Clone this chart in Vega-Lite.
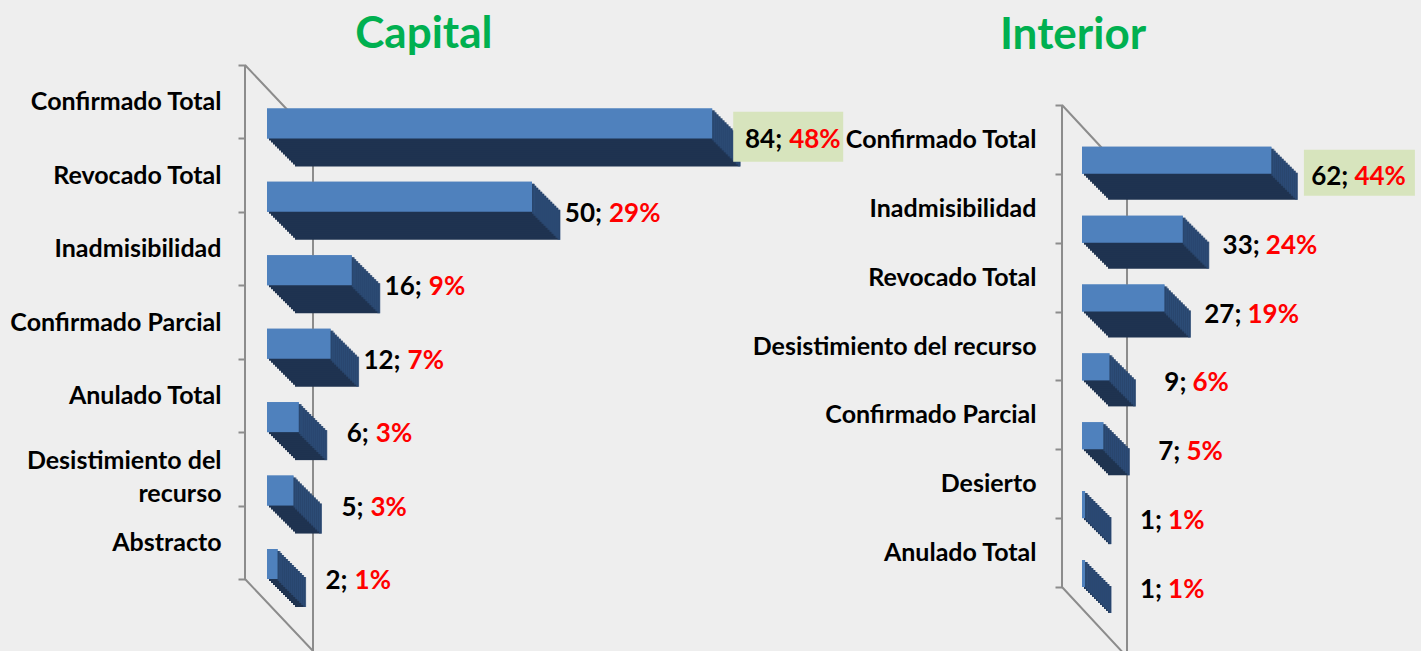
{
  "$schema": "https://vega.github.io/schema/vega-lite/v6.json",
  "width": 1421,
  "height": 651,
  "autosize": {"type": "none"},
  "padding": 0,
  "background": "#eeeeee",
  "config": {"view": {"stroke": null}, "axis": {"grid": false}},
  "data": {"values": [
    {"panel": "Capital", "cat": "Confirmado Total", "n": 84, "num": "84;", "pct": "48%"},
    {"panel": "Capital", "cat": "Revocado Total", "n": 50, "num": "50;", "pct": "29%"},
    {"panel": "Capital", "cat": "Inadmisibilidad", "n": 16, "num": "16;", "pct": "9%"},
    {"panel": "Capital", "cat": "Confirmado Parcial", "n": 12, "num": "12;", "pct": "7%"},
    {"panel": "Capital", "cat": "Anulado Total", "n": 6, "num": "6;", "pct": "3%"},
    {"panel": "Capital", "cat": "Desistimiento del recurso", "n": 5, "num": "5;", "pct": "3%"},
    {"panel": "Capital", "cat": "Abstracto", "n": 2, "num": "2;", "pct": "1%"},
    {"panel": "Interior", "cat": "Confirmado Total", "n": 62, "num": "62;", "pct": "44%"},
    {"panel": "Interior", "cat": "Inadmisibilidad", "n": 33, "num": "33;", "pct": "24%"},
    {"panel": "Interior", "cat": "Revocado Total", "n": 27, "num": "27;", "pct": "19%"},
    {"panel": "Interior", "cat": "Desistimiento del recurso", "n": 9, "num": "9;", "pct": "6%"},
    {"panel": "Interior", "cat": "Confirmado Parcial", "n": 7, "num": "7;", "pct": "5%"},
    {"panel": "Interior", "cat": "Desierto", "n": 1, "num": "1;", "pct": "1%"},
    {"panel": "Interior", "cat": "Anulado Total", "n": 1, "num": "1;", "pct": "1%"}
  ]},
  "layer": [
    {
      "transform": [{"filter": "datum.panel == 'Capital'"}],
      "layer": [
        {"mark": {"type": "bar", "color": "#4f81bd", "height": 30, "yOffset": 21.7},
         "encoding": {
           "x": {"field": "n", "type": "quantitative", "scale": {"domain": [-50.38, 217.74], "nice": false, "zero": false}, "axis": null},
           "y": {"field": "cat", "type": "nominal", "sort": null, "scale": {"paddingInner": 0, "paddingOuter": 0.93286, "align": 0.4745},
             "axis": {"title": null, "orient": "left", "offset": -245, "domain": false, "tickColor": "#8c8c8c", "tickWidth": 2, "tickSize": 7, "tickBand": "extent", "labelFont": "Lato", "labelFontSize": 25, "labelFontWeight": "bold", "labelColor": "#000000", "labelPadding": 17, "labelLimit": 400, "labelLineHeight": 33,
               "labelBaseline": {"condition": {"test": "datum.label == 'Desistimiento del recurso'", "value": "alphabetic"}, "value": "middle"},
               "labelExpr": "datum.label == 'Desistimiento del recurso' ? ['Desistimiento del', 'recurso'] : datum.label"}}
         }},
        {"transform": [{"filter": "datum.cat == 'Confirmado Total'"}],
         "mark": {"type": "point", "filled": false, "opacity": 1, "color": "#8c8c8c", "strokeWidth": 2, "size": 10000, "shape": "M0,0L0,10.28M0,0L1.36,1.44L1.36,11.72M0,10.28L1.36,11.72", "xOffset": -22, "yOffset": -36.7},
         "encoding": {"x": {"datum": 0, "type": "quantitative"}, "y": {"field": "cat", "type": "nominal", "sort": null}}},
        {"transform": [{"filter": "datum.cat == 'Confirmado Total'"}],
         "mark": {"type": "text", "align": "center", "baseline": "alphabetic", "font": "Lato", "fontSize": 44, "fontWeight": "bold", "color": "#00b050", "yOffset": -53.7},
         "encoding": {"x": {"datum": 29.6, "type": "quantitative"}, "y": {"field": "cat", "type": "nominal", "sort": null}, "text": {"value": "Capital"}}},
        {"mark": {"type": "bar", "color": "#1f3350", "height": 30, "xOffset": 28, "x2Offset": 28, "yOffset": 49.7}, "encoding": {"x": {"field": "n", "type": "quantitative"}, "y": {"field": "cat", "type": "nominal", "sort": null}}},
        {"mark": {"type": "bar", "color": "#1f3350", "height": 30, "xOffset": 26, "x2Offset": 26, "yOffset": 47.7}, "encoding": {"x": {"field": "n", "type": "quantitative"}, "y": {"field": "cat", "type": "nominal", "sort": null}}},
        {"mark": {"type": "bar", "color": "#1f3350", "height": 30, "xOffset": 24, "x2Offset": 24, "yOffset": 45.7}, "encoding": {"x": {"field": "n", "type": "quantitative"}, "y": {"field": "cat", "type": "nominal", "sort": null}}},
        {"mark": {"type": "bar", "color": "#1f3350", "height": 30, "xOffset": 22, "x2Offset": 22, "yOffset": 43.7}, "encoding": {"x": {"field": "n", "type": "quantitative"}, "y": {"field": "cat", "type": "nominal", "sort": null}}},
        {"mark": {"type": "bar", "color": "#1f3350", "height": 30, "xOffset": 20, "x2Offset": 20, "yOffset": 41.7}, "encoding": {"x": {"field": "n", "type": "quantitative"}, "y": {"field": "cat", "type": "nominal", "sort": null}}},
        {"mark": {"type": "bar", "color": "#1f3350", "height": 30, "xOffset": 18, "x2Offset": 18, "yOffset": 39.7}, "encoding": {"x": {"field": "n", "type": "quantitative"}, "y": {"field": "cat", "type": "nominal", "sort": null}}},
        {"mark": {"type": "bar", "color": "#1f3350", "height": 30, "xOffset": 16, "x2Offset": 16, "yOffset": 37.7}, "encoding": {"x": {"field": "n", "type": "quantitative"}, "y": {"field": "cat", "type": "nominal", "sort": null}}},
        {"mark": {"type": "bar", "color": "#1f3350", "height": 30, "xOffset": 14, "x2Offset": 14, "yOffset": 35.7}, "encoding": {"x": {"field": "n", "type": "quantitative"}, "y": {"field": "cat", "type": "nominal", "sort": null}}},
        {"mark": {"type": "bar", "color": "#1f3350", "height": 30, "xOffset": 12, "x2Offset": 12, "yOffset": 33.7}, "encoding": {"x": {"field": "n", "type": "quantitative"}, "y": {"field": "cat", "type": "nominal", "sort": null}}},
        {"mark": {"type": "bar", "color": "#1f3350", "height": 30, "xOffset": 10, "x2Offset": 10, "yOffset": 31.7}, "encoding": {"x": {"field": "n", "type": "quantitative"}, "y": {"field": "cat", "type": "nominal", "sort": null}}},
        {"mark": {"type": "bar", "color": "#1f3350", "height": 30, "xOffset": 8, "x2Offset": 8, "yOffset": 29.7}, "encoding": {"x": {"field": "n", "type": "quantitative"}, "y": {"field": "cat", "type": "nominal", "sort": null}}},
        {"mark": {"type": "bar", "color": "#1f3350", "height": 30, "xOffset": 6, "x2Offset": 6, "yOffset": 27.7}, "encoding": {"x": {"field": "n", "type": "quantitative"}, "y": {"field": "cat", "type": "nominal", "sort": null}}},
        {"mark": {"type": "bar", "color": "#1f3350", "height": 30, "xOffset": 4, "x2Offset": 4, "yOffset": 25.7}, "encoding": {"x": {"field": "n", "type": "quantitative"}, "y": {"field": "cat", "type": "nominal", "sort": null}}},
        {"mark": {"type": "bar", "color": "#1f3350", "height": 30, "xOffset": 2, "x2Offset": 2, "yOffset": 23.7}, "encoding": {"x": {"field": "n", "type": "quantitative"}, "y": {"field": "cat", "type": "nominal", "sort": null}}},
        {"mark": {"type": "tick", "color": "#2d4e7a", "size": 30, "thickness": 3, "xOffset": 27, "yOffset": 49.7}, "encoding": {"x": {"field": "n", "type": "quantitative"}, "y": {"field": "cat", "type": "nominal", "sort": null}}},
        {"mark": {"type": "tick", "color": "#2d4e7a", "size": 30, "thickness": 3, "xOffset": 25, "yOffset": 47.7}, "encoding": {"x": {"field": "n", "type": "quantitative"}, "y": {"field": "cat", "type": "nominal", "sort": null}}},
        {"mark": {"type": "tick", "color": "#2d4e7a", "size": 30, "thickness": 3, "xOffset": 23, "yOffset": 45.7}, "encoding": {"x": {"field": "n", "type": "quantitative"}, "y": {"field": "cat", "type": "nominal", "sort": null}}},
        {"mark": {"type": "tick", "color": "#2d4e7a", "size": 30, "thickness": 3, "xOffset": 21, "yOffset": 43.7}, "encoding": {"x": {"field": "n", "type": "quantitative"}, "y": {"field": "cat", "type": "nominal", "sort": null}}},
        {"mark": {"type": "tick", "color": "#2d4e7a", "size": 30, "thickness": 3, "xOffset": 19, "yOffset": 41.7}, "encoding": {"x": {"field": "n", "type": "quantitative"}, "y": {"field": "cat", "type": "nominal", "sort": null}}},
        {"mark": {"type": "tick", "color": "#2d4e7a", "size": 30, "thickness": 3, "xOffset": 17, "yOffset": 39.7}, "encoding": {"x": {"field": "n", "type": "quantitative"}, "y": {"field": "cat", "type": "nominal", "sort": null}}},
        {"mark": {"type": "tick", "color": "#2d4e7a", "size": 30, "thickness": 3, "xOffset": 15, "yOffset": 37.7}, "encoding": {"x": {"field": "n", "type": "quantitative"}, "y": {"field": "cat", "type": "nominal", "sort": null}}},
        {"mark": {"type": "tick", "color": "#2d4e7a", "size": 30, "thickness": 3, "xOffset": 13, "yOffset": 35.7}, "encoding": {"x": {"field": "n", "type": "quantitative"}, "y": {"field": "cat", "type": "nominal", "sort": null}}},
        {"mark": {"type": "tick", "color": "#2d4e7a", "size": 30, "thickness": 3, "xOffset": 11, "yOffset": 33.7}, "encoding": {"x": {"field": "n", "type": "quantitative"}, "y": {"field": "cat", "type": "nominal", "sort": null}}},
        {"mark": {"type": "tick", "color": "#2d4e7a", "size": 30, "thickness": 3, "xOffset": 9, "yOffset": 31.7}, "encoding": {"x": {"field": "n", "type": "quantitative"}, "y": {"field": "cat", "type": "nominal", "sort": null}}},
        {"mark": {"type": "tick", "color": "#2d4e7a", "size": 30, "thickness": 3, "xOffset": 7, "yOffset": 29.7}, "encoding": {"x": {"field": "n", "type": "quantitative"}, "y": {"field": "cat", "type": "nominal", "sort": null}}},
        {"mark": {"type": "tick", "color": "#2d4e7a", "size": 30, "thickness": 3, "xOffset": 5, "yOffset": 27.7}, "encoding": {"x": {"field": "n", "type": "quantitative"}, "y": {"field": "cat", "type": "nominal", "sort": null}}},
        {"mark": {"type": "tick", "color": "#2d4e7a", "size": 30, "thickness": 3, "xOffset": 3, "yOffset": 25.7}, "encoding": {"x": {"field": "n", "type": "quantitative"}, "y": {"field": "cat", "type": "nominal", "sort": null}}},
        {"mark": {"type": "tick", "color": "#2d4e7a", "size": 30, "thickness": 3, "xOffset": 1.5, "yOffset": 23.7}, "encoding": {"x": {"field": "n", "type": "quantitative"}, "y": {"field": "cat", "type": "nominal", "sort": null}}},
        {"mark": {"type": "bar", "color": "#4f81bd", "height": 30, "yOffset": 21.7},
         "encoding": {"x": {"field": "n", "type": "quantitative"}, "y": {"field": "cat", "type": "nominal", "sort": null}}},
        {"transform": [{"filter": "datum.cat == 'Confirmado Total'"}],
         "mark": {"type": "point", "filled": true, "opacity": 1, "color": "#d7e4bd", "size": 10000, "shape": "M-1.1,-0.5L1.1,-0.5L1.1,0.5L-1.1,0.5Z", "xOffset": 76, "yOffset": 35},
         "encoding": {"x": {"field": "n", "type": "quantitative"}, "y": {"field": "cat", "type": "nominal", "sort": null}}},
        {"mark": {"type": "text", "align": "right", "baseline": "middle", "dx": 70, "yOffset": 38.7, "font": "Lato", "fontSize": 26, "fontWeight": "bold", "color": "#000000"},
         "encoding": {"x": {"field": "n", "type": "quantitative"}, "y": {"field": "cat", "type": "nominal", "sort": null}, "text": {"field": "num"}}},
        {"mark": {"type": "text", "align": "left", "baseline": "middle", "dx": 77, "yOffset": 38.7, "font": "Lato", "fontSize": 26, "fontWeight": "bold", "color": "#ff0000"},
         "encoding": {"x": {"field": "n", "type": "quantitative"}, "y": {"field": "cat", "type": "nominal", "sort": null}, "text": {"field": "pct"}}}
      ]
    },
    {
      "transform": [{"filter": "datum.panel == 'Interior'"}],
      "layer": [
        {"mark": {"type": "bar", "color": "#4f81bd", "height": 27, "yOffset": 20.9},
         "encoding": {
           "x": {"field": "n", "type": "quantitative", "scale": {"domain": [-354.23, 110.98], "nice": false, "zero": false}, "axis": null},
           "y": {"field": "cat", "type": "nominal", "sort": null, "scale": {"range": [105, 587], "paddingInner": 0, "paddingOuter": 0},
             "axis": {"title": null, "orient": "left", "offset": -1062, "domain": false, "tickColor": "#8c8c8c", "tickWidth": 2, "tickSize": 7, "tickBand": "extent", "labelFont": "Lato", "labelFontSize": 25, "labelFontWeight": "bold", "labelColor": "#000000", "labelPadding": 19, "labelLimit": 400}}
         }},
        {"transform": [{"filter": "datum.cat == 'Confirmado Total'"}],
         "mark": {"type": "point", "filled": false, "opacity": 1, "color": "#8c8c8c", "strokeWidth": 2, "size": 10000, "shape": "M0,0L0,9.64M0,0L1.3,1.4L1.3,11.04M0,9.64L1.3,11.04", "xOffset": -20, "yOffset": -34.43},
         "encoding": {"x": {"datum": 0, "type": "quantitative"}, "y": {"field": "cat", "type": "nominal", "sort": null}}},
        {"transform": [{"filter": "datum.cat == 'Confirmado Total'"}],
         "mark": {"type": "text", "align": "center", "baseline": "alphabetic", "font": "Lato", "fontSize": 44, "fontWeight": "bold", "color": "#00b050", "yOffset": -90.4},
         "encoding": {"x": {"datum": -2.95, "type": "quantitative"}, "y": {"field": "cat", "type": "nominal", "sort": null}, "text": {"value": "Interior"}}},
        {"mark": {"type": "bar", "color": "#1f3350", "height": 27, "xOffset": 26, "x2Offset": 26, "yOffset": 46.9}, "encoding": {"x": {"field": "n", "type": "quantitative"}, "y": {"field": "cat", "type": "nominal", "sort": null}}},
        {"mark": {"type": "bar", "color": "#1f3350", "height": 27, "xOffset": 24, "x2Offset": 24, "yOffset": 44.9}, "encoding": {"x": {"field": "n", "type": "quantitative"}, "y": {"field": "cat", "type": "nominal", "sort": null}}},
        {"mark": {"type": "bar", "color": "#1f3350", "height": 27, "xOffset": 22, "x2Offset": 22, "yOffset": 42.9}, "encoding": {"x": {"field": "n", "type": "quantitative"}, "y": {"field": "cat", "type": "nominal", "sort": null}}},
        {"mark": {"type": "bar", "color": "#1f3350", "height": 27, "xOffset": 20, "x2Offset": 20, "yOffset": 40.9}, "encoding": {"x": {"field": "n", "type": "quantitative"}, "y": {"field": "cat", "type": "nominal", "sort": null}}},
        {"mark": {"type": "bar", "color": "#1f3350", "height": 27, "xOffset": 18, "x2Offset": 18, "yOffset": 38.9}, "encoding": {"x": {"field": "n", "type": "quantitative"}, "y": {"field": "cat", "type": "nominal", "sort": null}}},
        {"mark": {"type": "bar", "color": "#1f3350", "height": 27, "xOffset": 16, "x2Offset": 16, "yOffset": 36.9}, "encoding": {"x": {"field": "n", "type": "quantitative"}, "y": {"field": "cat", "type": "nominal", "sort": null}}},
        {"mark": {"type": "bar", "color": "#1f3350", "height": 27, "xOffset": 14, "x2Offset": 14, "yOffset": 34.9}, "encoding": {"x": {"field": "n", "type": "quantitative"}, "y": {"field": "cat", "type": "nominal", "sort": null}}},
        {"mark": {"type": "bar", "color": "#1f3350", "height": 27, "xOffset": 12, "x2Offset": 12, "yOffset": 32.9}, "encoding": {"x": {"field": "n", "type": "quantitative"}, "y": {"field": "cat", "type": "nominal", "sort": null}}},
        {"mark": {"type": "bar", "color": "#1f3350", "height": 27, "xOffset": 10, "x2Offset": 10, "yOffset": 30.9}, "encoding": {"x": {"field": "n", "type": "quantitative"}, "y": {"field": "cat", "type": "nominal", "sort": null}}},
        {"mark": {"type": "bar", "color": "#1f3350", "height": 27, "xOffset": 8, "x2Offset": 8, "yOffset": 28.9}, "encoding": {"x": {"field": "n", "type": "quantitative"}, "y": {"field": "cat", "type": "nominal", "sort": null}}},
        {"mark": {"type": "bar", "color": "#1f3350", "height": 27, "xOffset": 6, "x2Offset": 6, "yOffset": 26.9}, "encoding": {"x": {"field": "n", "type": "quantitative"}, "y": {"field": "cat", "type": "nominal", "sort": null}}},
        {"mark": {"type": "bar", "color": "#1f3350", "height": 27, "xOffset": 4, "x2Offset": 4, "yOffset": 24.9}, "encoding": {"x": {"field": "n", "type": "quantitative"}, "y": {"field": "cat", "type": "nominal", "sort": null}}},
        {"mark": {"type": "bar", "color": "#1f3350", "height": 27, "xOffset": 2, "x2Offset": 2, "yOffset": 22.9}, "encoding": {"x": {"field": "n", "type": "quantitative"}, "y": {"field": "cat", "type": "nominal", "sort": null}}},
        {"mark": {"type": "tick", "color": "#2d4e7a", "size": 27, "thickness": 3, "xOffset": 25, "yOffset": 46.9}, "encoding": {"x": {"field": "n", "type": "quantitative"}, "y": {"field": "cat", "type": "nominal", "sort": null}}},
        {"mark": {"type": "tick", "color": "#2d4e7a", "size": 27, "thickness": 3, "xOffset": 23, "yOffset": 44.9}, "encoding": {"x": {"field": "n", "type": "quantitative"}, "y": {"field": "cat", "type": "nominal", "sort": null}}},
        {"mark": {"type": "tick", "color": "#2d4e7a", "size": 27, "thickness": 3, "xOffset": 21, "yOffset": 42.9}, "encoding": {"x": {"field": "n", "type": "quantitative"}, "y": {"field": "cat", "type": "nominal", "sort": null}}},
        {"mark": {"type": "tick", "color": "#2d4e7a", "size": 27, "thickness": 3, "xOffset": 19, "yOffset": 40.9}, "encoding": {"x": {"field": "n", "type": "quantitative"}, "y": {"field": "cat", "type": "nominal", "sort": null}}},
        {"mark": {"type": "tick", "color": "#2d4e7a", "size": 27, "thickness": 3, "xOffset": 17, "yOffset": 38.9}, "encoding": {"x": {"field": "n", "type": "quantitative"}, "y": {"field": "cat", "type": "nominal", "sort": null}}},
        {"mark": {"type": "tick", "color": "#2d4e7a", "size": 27, "thickness": 3, "xOffset": 15, "yOffset": 36.9}, "encoding": {"x": {"field": "n", "type": "quantitative"}, "y": {"field": "cat", "type": "nominal", "sort": null}}},
        {"mark": {"type": "tick", "color": "#2d4e7a", "size": 27, "thickness": 3, "xOffset": 13, "yOffset": 34.9}, "encoding": {"x": {"field": "n", "type": "quantitative"}, "y": {"field": "cat", "type": "nominal", "sort": null}}},
        {"mark": {"type": "tick", "color": "#2d4e7a", "size": 27, "thickness": 3, "xOffset": 11, "yOffset": 32.9}, "encoding": {"x": {"field": "n", "type": "quantitative"}, "y": {"field": "cat", "type": "nominal", "sort": null}}},
        {"mark": {"type": "tick", "color": "#2d4e7a", "size": 27, "thickness": 3, "xOffset": 9, "yOffset": 30.9}, "encoding": {"x": {"field": "n", "type": "quantitative"}, "y": {"field": "cat", "type": "nominal", "sort": null}}},
        {"mark": {"type": "tick", "color": "#2d4e7a", "size": 27, "thickness": 3, "xOffset": 7, "yOffset": 28.9}, "encoding": {"x": {"field": "n", "type": "quantitative"}, "y": {"field": "cat", "type": "nominal", "sort": null}}},
        {"mark": {"type": "tick", "color": "#2d4e7a", "size": 27, "thickness": 3, "xOffset": 5, "yOffset": 26.9}, "encoding": {"x": {"field": "n", "type": "quantitative"}, "y": {"field": "cat", "type": "nominal", "sort": null}}},
        {"mark": {"type": "tick", "color": "#2d4e7a", "size": 27, "thickness": 3, "xOffset": 3, "yOffset": 24.9}, "encoding": {"x": {"field": "n", "type": "quantitative"}, "y": {"field": "cat", "type": "nominal", "sort": null}}},
        {"mark": {"type": "tick", "color": "#2d4e7a", "size": 27, "thickness": 3, "xOffset": 1.5, "yOffset": 22.9}, "encoding": {"x": {"field": "n", "type": "quantitative"}, "y": {"field": "cat", "type": "nominal", "sort": null}}},
        {"mark": {"type": "bar", "color": "#4f81bd", "height": 27, "yOffset": 20.9},
         "encoding": {"x": {"field": "n", "type": "quantitative"}, "y": {"field": "cat", "type": "nominal", "sort": null}}},
        {"transform": [{"filter": "datum.cat == 'Confirmado Total'"}],
         "mark": {"type": "point", "filled": true, "opacity": 1, "color": "#d7e4bd", "size": 10000, "shape": "M-1.11,-0.46L1.11,-0.46L1.11,0.46L-1.11,0.46Z", "xOffset": 88, "yOffset": 33.4},
         "encoding": {"x": {"field": "n", "type": "quantitative"}, "y": {"field": "cat", "type": "nominal", "sort": null}}},
        {"mark": {"type": "text", "align": "right", "baseline": "middle", "dx": 77, "yOffset": 37.4, "font": "Lato", "fontSize": 26, "fontWeight": "bold", "color": "#000000"},
         "encoding": {"x": {"field": "n", "type": "quantitative"}, "y": {"field": "cat", "type": "nominal", "sort": null}, "text": {"field": "num"}}},
        {"mark": {"type": "text", "align": "left", "baseline": "middle", "dx": 83, "yOffset": 37.4, "font": "Lato", "fontSize": 26, "fontWeight": "bold", "color": "#ff0000"},
         "encoding": {"x": {"field": "n", "type": "quantitative"}, "y": {"field": "cat", "type": "nominal", "sort": null}, "text": {"field": "pct"}}}
      ]
    }
  ],
  "resolve": {"scale": {"x": "independent", "y": "independent"}, "axis": {"x": "independent", "y": "independent"}}
}
